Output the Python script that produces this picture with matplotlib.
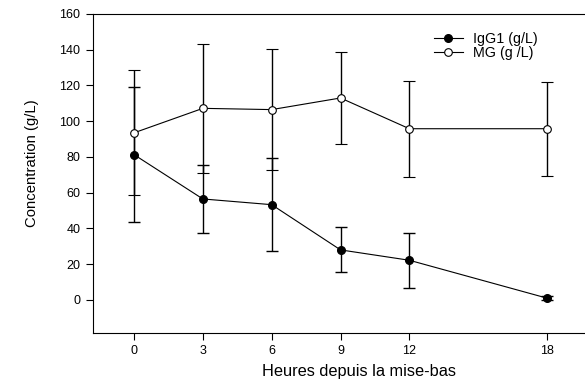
import matplotlib
matplotlib.use("Agg")
import matplotlib.pyplot as plt
from matplotlib.lines import Line2D

plt.rcParams['font.family'] = ['Liberation Sans', 'DejaVu Sans']

hours = [0, 3, 6, 9, 12, 18]
igg1 = [81.3, 56.5, 53.3, 28.0, 22.2, 1.0]
igg1_err = [37.6, 18.8, 26.0, 12.6, 15.4, 1.2]
mg = [93.5, 107.2, 106.5, 113.0, 95.8, 95.8]
mg_err = [35.0, 36.2, 34.0, 25.8, 26.8, 26.4]
xticks = [0, 3, 6, 9, 12, 18]
yticks = [0, 20, 40, 60, 80, 100, 120, 140, 160]
labels = ['IgG1 (g/L)', 'MG (g /L)']

fig = plt.figure(figsize=(5.85, 3.8), dpi=100)
ax = fig.add_axes([0.159, 0.1237, 0.86, 0.8395])

ax.errorbar(hours, igg1, yerr=igg1_err, color='black', lw=0.8, elinewidth=1.0,
            capsize=4.5, capthick=1.0, marker='o', markersize=5.5,
            markerfacecolor='black', markeredgecolor='black', zorder=3)
ax.errorbar(hours, mg, yerr=mg_err, color='black', lw=0.8, elinewidth=1.0,
            capsize=4.5, capthick=1.0, marker='o', markersize=5.5,
            markerfacecolor='white', markeredgecolor='black', markeredgewidth=0.8,
            zorder=3)

ax.set_xlim(-1.787, 20.14)
ax.set_ylim(-18.5, 160)
ax.set_xticks(xticks)
ax.set_yticks(yticks)
ax.tick_params(labelsize=9, length=5, width=0.8, direction='out', pad=4)
for s in ['left', 'bottom', 'top']:
    ax.spines[s].set_linewidth(0.8)
ax.spines['right'].set_visible(False)
ax.set_xlabel('Heures depuis la mise-bas', fontsize=11.8)
ax.set_ylabel('Concentration (g/L)', fontsize=10.7)
ax.xaxis.set_label_coords(0.529, -0.097)
ax.yaxis.set_label_coords(-0.107, 0.533)

handles = [
    Line2D([], [], color='black', lw=0.8, marker='o', markersize=5.5,
           markerfacecolor='black', markeredgecolor='black'),
    Line2D([], [], color='black', lw=0.8, marker='o', markersize=5.5,
           markerfacecolor='white', markeredgecolor='black', markeredgewidth=0.8),
]
leg = fig.legend(handles, labels, loc='upper left', bbox_to_anchor=(0.742, 0.917),
                 frameon=False, fontsize=10.3, handlelength=2.0, handletextpad=0.75,
                 labelspacing=0.0, borderaxespad=0.0, borderpad=0.0)

fig.savefig('out.png', dpi=100)
